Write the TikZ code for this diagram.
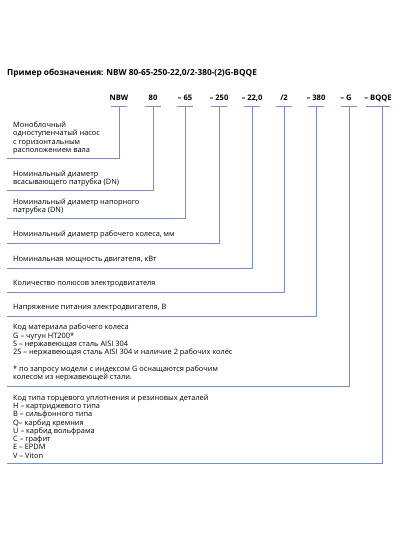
\documentclass[tikz,border=0pt]{standalone}
\usepackage{fontspec}
\setmainfont{Open Sans}
\definecolor{linkblue}{RGB}{122,143,196}
\begin{document}
\begin{tikzpicture}[x=1pt, y=-1pt,
    code/.style={font=\fontsize{7.6}{9}\selectfont\bfseries, inner sep=0pt, anchor=base},
    desc/.style={font=\fontsize{7.4}{8.3}\selectfont, align=left, anchor=south west, inner xsep=6pt, inner ysep=4.5pt},
    link/.style={draw=linkblue, line width=1pt},
    title/.style={font=\fontsize{8.3}{9}\selectfont\bfseries, anchor=base west, inner sep=0pt}
]
\useasboundingbox (0,0) rectangle (400,534);
\node[title] (ttl) at (7,76) {Пример обозначения: NBW 80-65-250-22,0/2-380-(2)G-BQQE};

% code letters
\node[code] (nbw) at (119,101) {NBW};
\node[code] (d80) at (153,101) {80};
\node[code] (d65) at (185,101) {– 65};
\node[code] (d250) at (219,101) {– 250};
\node[code] (d22) at (252,101) {– 22,0};
\node[code] (d2) at (284,101) {/2};
\node[code] (d380) at (316,101) {– 380};
\node[code] (dg) at (346,101) {– G};
\node[code] (dbqqe) at (378,101) {– BQQE};

% descriptions
\node[desc] (lnbw) at (7,159) {Моноблочный\\одноступенчатый насос\\с горизонтальным\\расположением вала};
\node[desc] (l80) at (7,191) {Номинальный диаметр\\всасывающего патрубка (DN)};
\node[desc] (l65) at (7,219) {Номинальный диаметр напорного\\патрубка (DN)};
\node[desc] (l250) at (7,243) {Номинальный диаметр рабочего колеса, мм};
\node[desc] (l22) at (7,268) {Номинальная мощность двигателя, кВт};
\node[desc] (l2) at (7,292) {Количество полюсов электродвигателя};
\node[desc] (l380) at (7,316) {Напряжение питания электродвигателя, В};
\node[desc] (lg) at (7,386) {Код материала рабочего колеса\\G – чугун HT200*\\S – нержавеющая сталь AISI 304\\2S – нержавеющая сталь AISI 304 и наличие 2 рабочих колёс\\[8.3pt]* по запросу модели с индексом G оснащаются рабочим\\колесом из нержавеющей стали.};
\node[desc] (lbqqe) at (7,463) {Код типа торцевого уплотнения и резиновых деталей\\H – картриджевого типа\\B – сильфонного типа\\Q– карбид кремния\\U – карбид вольфрама\\C – графит\\E – EPDM\\V – Viton};

% bars and leaders
\draw[link] ([xshift=-8pt,yshift=-6pt]nbw.base) -- ([xshift=8pt,yshift=-6pt]nbw.base);
\draw[link] ([yshift=-6pt]nbw.base) |- (lnbw.south west);
\draw[link] ([xshift=-8pt,yshift=-6pt]d80.base) -- ([xshift=8pt,yshift=-6pt]d80.base);
\draw[link] ([yshift=-6pt]d80.base) |- (l80.south west);
\draw[link] ([xshift=-8pt,yshift=-6pt]d65.base) -- ([xshift=8pt,yshift=-6pt]d65.base);
\draw[link] ([yshift=-6pt]d65.base) |- (l65.south west);
\draw[link] ([xshift=-8pt,yshift=-6pt]d250.base) -- ([xshift=8pt,yshift=-6pt]d250.base);
\draw[link] ([yshift=-6pt]d250.base) |- (l250.south west);
\draw[link] ([xshift=-8pt,yshift=-6pt]d22.base) -- ([xshift=8pt,yshift=-6pt]d22.base);
\draw[link] ([yshift=-6pt]d22.base) |- (l22.south west);
\draw[link] ([xshift=-8pt,yshift=-6pt]d2.base) -- ([xshift=8pt,yshift=-6pt]d2.base);
\draw[link] ([yshift=-6pt]d2.base) |- (l2.south west);
\draw[link] ([xshift=-8pt,yshift=-6pt]d380.base) -- ([xshift=8pt,yshift=-6pt]d380.base);
\draw[link] ([yshift=-6pt]d380.base) |- (l380.south west);
\draw[link] ([xshift=-5pt,yshift=-6pt]dg.base) -- ([xshift=11pt,yshift=-6pt]dg.base);
\draw[link] ([xshift=3pt,yshift=-6pt]dg.base) |- (lg.south west);
\draw[link] ([xshift=-12pt,yshift=-6pt]dbqqe.base) -- ([xshift=12pt,yshift=-6pt]dbqqe.base);
\draw[link] ([xshift=4pt,yshift=-6pt]dbqqe.base) |- (lbqqe.south west);
\end{tikzpicture}
\end{document}
